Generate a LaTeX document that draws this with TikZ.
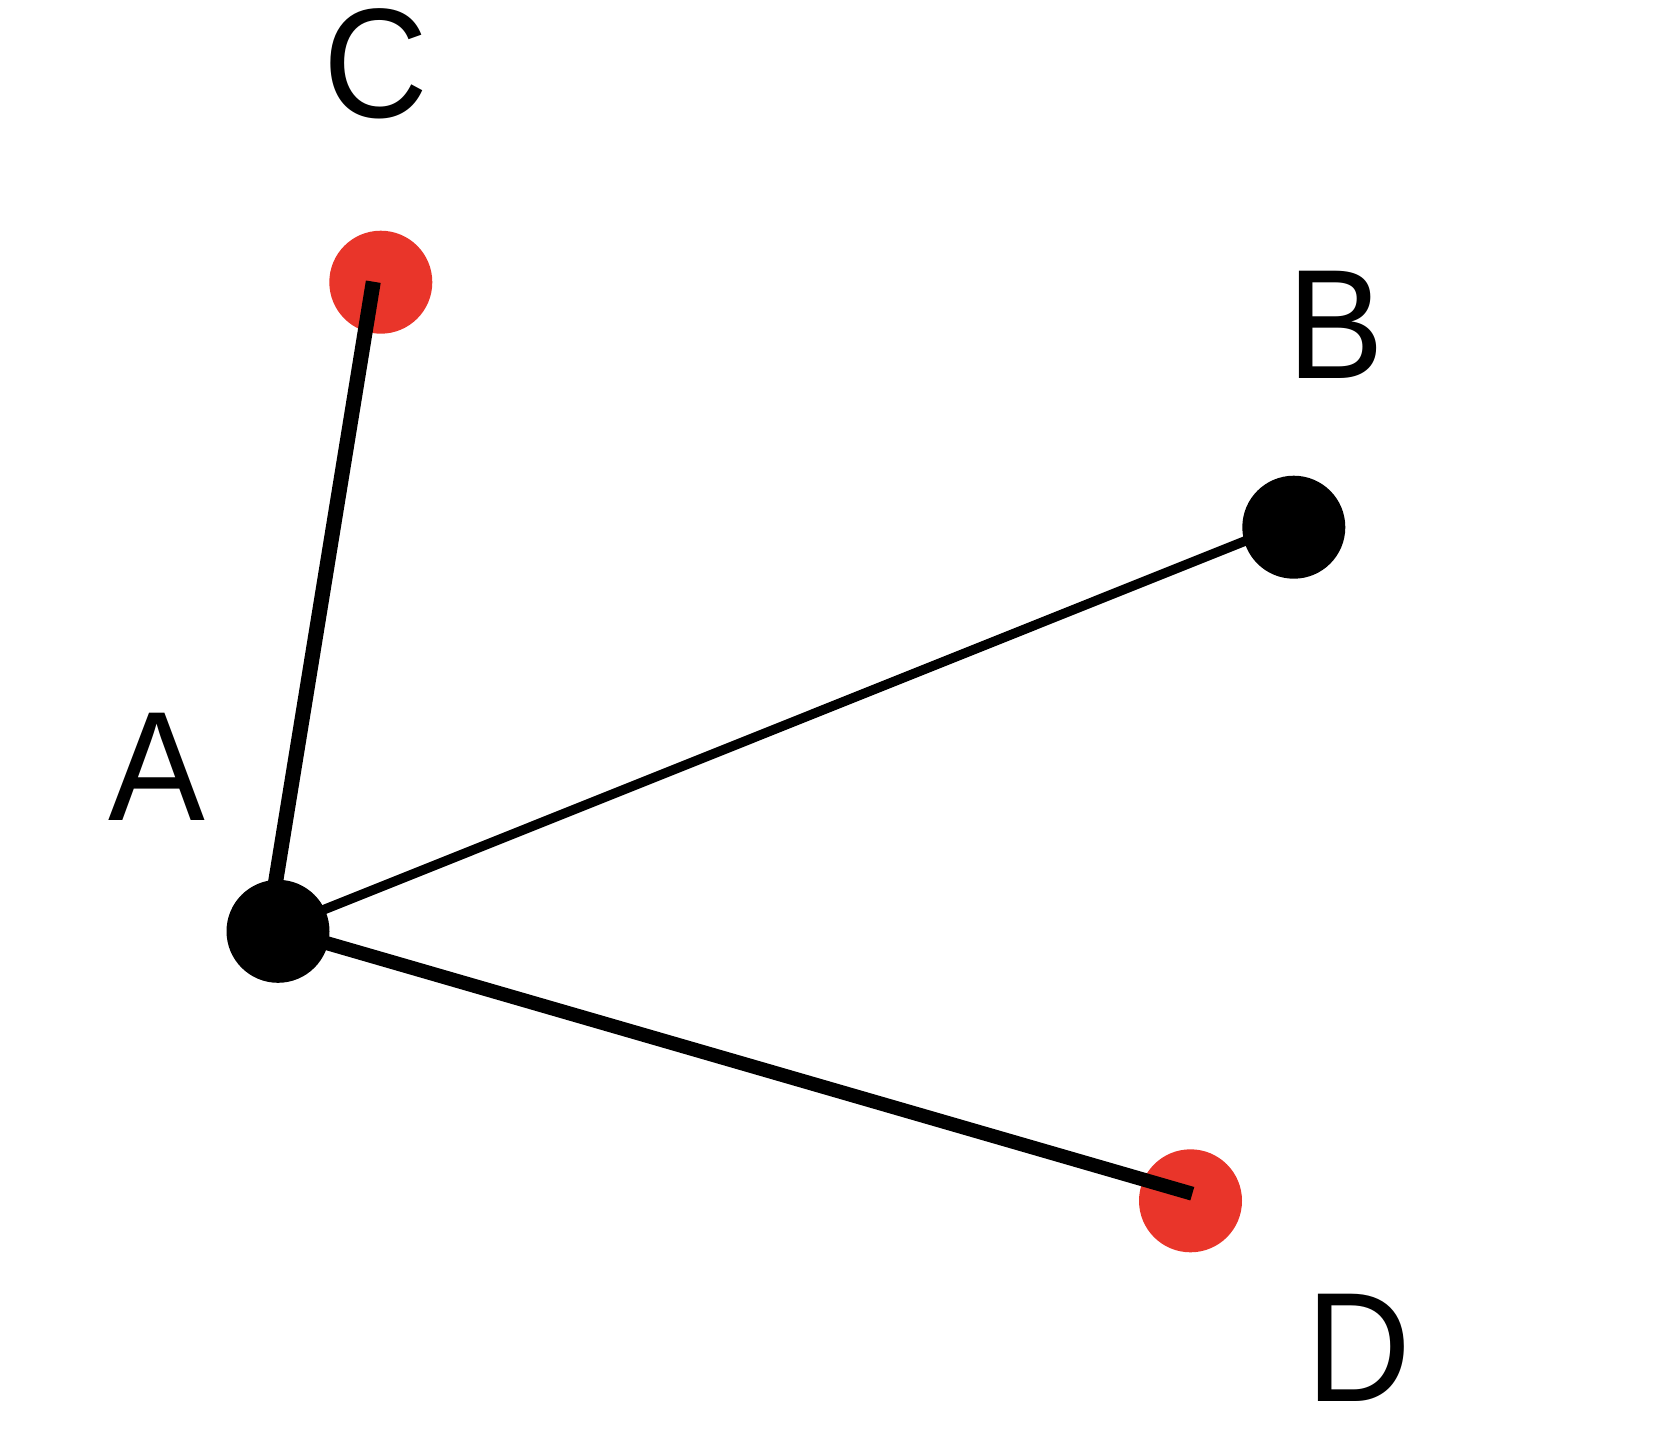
\documentclass[tikz,border=0pt]{standalone}
\usepackage{fontspec}
\setmainfont{Liberation Sans}[FakeStretch=0.93]
\definecolor{dotred}{HTML}{E9352A}
\begin{document}
\begin{tikzpicture}[x=0.5pt,y=-0.5pt,
  dot/.style={circle,inner sep=0pt,minimum size=51.5pt,draw=none},
  lbl/.style={anchor=base,inner sep=0pt,font=\fontsize{78}{78}\selectfont},
  edge/.style={draw=black,line cap=butt}]
\useasboundingbox (0,0) rectangle (1676,1430);
% dots
\node[dot,fill=black]   (a) at (278,931.3) {};
\node[dot,fill=black]   (b) at (1293.8,527.2) {};
\node[dot,fill=dotred]  (c) at (380.8,282.2) {};
\node[dot,fill=dotred]  (d) at (1190.5,1200.8) {};
% connector end points
\coordinate (ac) at (267.6,931);
\coordinate (ce) at (373.3,281.7);
\coordinate (ab) at (278,928);
\coordinate (be) at (1293.8,521.5);
\coordinate (ad) at (278,929);
\coordinate (de) at (1192.3,1193.7);
% connectors
\draw[edge,line width=7.5pt] (ac) -- (ce);
\draw[edge,line width=4.8pt] (ab) -- (be);
\draw[edge,line width=7pt] (ad) -- (de);
% labels
\node[lbl] (la) at (156.7,820.7) {A};
\node[lbl] (lb) at (1336,378.4) {B};
\node[lbl] (lc) at (375.8,117.5) {C};
\node[lbl] (ld) at (1359,1401) {D};
\end{tikzpicture}
\end{document}
